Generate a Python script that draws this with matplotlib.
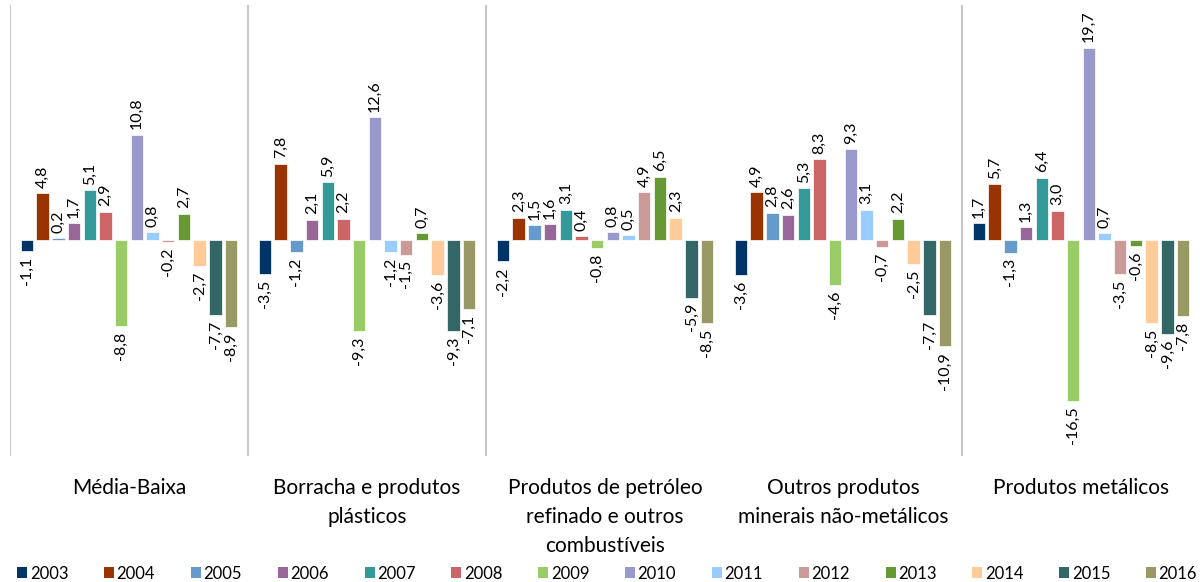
import matplotlib.pyplot as plt
import numpy as np
from matplotlib.patches import Patch

# Taxa de variação por segmento e ano (%)
categorias = ['Média-Baixa',
              'Borracha e produtos\nplásticos',
              'Produtos de petróleo\nrefinado e outros\ncombustíveis',
              'Outros produtos\nminerais não-metálicos',
              'Produtos metálicos']
anos = ['2003', '2004', '2005', '2006', '2007', '2008', '2009',
        '2010', '2011', '2012', '2013', '2014', '2015', '2016']

media_baixa = [-1.1, 4.8, 0.2, 1.7, 5.1, 2.9, -8.8, 10.8, 0.8, -0.2, 2.7, -2.7, -7.7, -8.9]
borracha = [-3.5, 7.8, -1.2, 2.1, 5.9, 2.2, -9.3, 12.6, -1.2, -1.5, 0.7, -3.6, -9.3, -7.1]
petroleo = [-2.2, 2.3, 1.5, 1.6, 3.1, 0.4, -0.8, 0.8, 0.5, 4.9, 6.5, 2.3, -5.9, -8.5]
minerais = [-3.6, 4.9, 2.8, 2.6, 5.3, 8.3, -4.6, 9.3, 3.1, -0.7, 2.2, -2.5, -7.7, -10.9]
metalicos = [1.7, 5.7, -1.3, 1.3, 6.4, 3.0, -16.5, 19.7, 0.7, -3.5, -0.6, -8.5, -9.6, -7.8]

cores = ['#003366', '#993300', '#6699CC', '#996699', '#339999', '#CC6666', '#99CC66',
         '#9999CC', '#99CCFF', '#CC9999', '#669933', '#FFCC99', '#336666', '#999966']

dados = np.array([media_baixa, borracha, petroleo, minerais, metalicos])

plt.rcParams['font.family'] = ['Lato', 'DejaVu Sans']

fig = plt.figure(figsize=(12, 5.82), dpi=100)
ax = fig.add_axes([10 / 1200, 1 - 456 / 582, 1190 / 1200, 451 / 582])

x = np.arange(len(categorias))
passo = 0.066
largura = 0.052

for j, ano in enumerate(anos):
    pos = x + (j - 6.5) * passo
    vals = dados[:, j]
    ax.bar(pos, vals, width=largura, color=cores[j], edgecolor='white', linewidth=0.5, label=ano)
    for px, v in zip(pos, vals):
        txt = f'{v:.1f}'.replace('.', ',')
        ax.annotate(txt, (px, v), xytext=(0, 4 if v >= 0 else -4), textcoords='offset points',
                    rotation=90, ha='center', va='bottom' if v >= 0 else 'top',
                    fontsize=11.5, color='black')

ax.set_xlim(-0.5, len(categorias) - 0.5)
ax.set_ylim(-22.15, 24.1)

# linhas separando os grupos
for k in [0, 1, 2, 4]:
    ax.axvline(k - 0.5, color='#C8C8C8', linewidth=1.5)

for s in ax.spines.values():
    s.set_visible(False)
ax.set_yticks([])
ax.set_xticks(x)
ax.set_xticklabels(categorias, fontsize=15, linespacing=1.55, va='top')
ax.tick_params(axis='x', length=0, pad=16)

handles = [Patch(facecolor=c, label=a) for c, a in zip(cores, anos)]
fig.legend(handles=handles, loc='lower center', ncol=14, frameon=False, fontsize=12,
           bbox_to_anchor=(0.506, -0.025), handlelength=0.6, handleheight=0.6,
           handletextpad=0.15, columnspacing=2.15)

fig.savefig('out.png', dpi=100)
